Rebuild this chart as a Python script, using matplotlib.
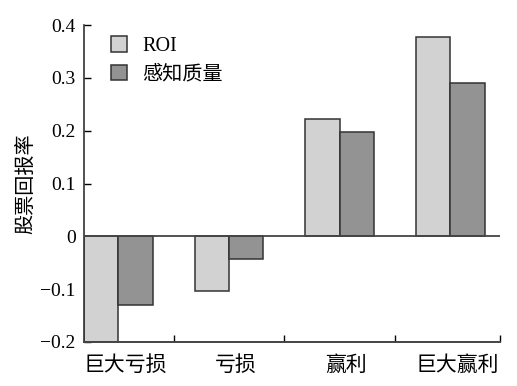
import numpy as np
import matplotlib.pyplot as plt
from matplotlib.patches import Patch

plt.rcParams['font.family'] = ['Liberation Serif', 'Noto Sans CJK SC']
plt.rcParams['axes.unicode_minus'] = True

# data
categories = ['巨大亏损', '亏损', '赢利', '巨大赢利']
roi = [-0.2, -0.104, 0.222, 0.377]
perceived = [-0.130, -0.042, 0.198, 0.290]
series_names = ['ROI', '感知质量']
yticks = [-0.2, -0.1, 0, 0.1, 0.2, 0.3, 0.4]
ytick_labels = ['\u22120.2', '\u22120.1', '0', '0.1', '0.2', '0.3', '0.4']

c_roi = '#d2d2d2'
c_per = '#939393'
edge = '#333333'

fig = plt.figure(figsize=(5.17, 3.86), dpi=100)
ax = fig.add_axes([0.1625, 0.114, 0.805, 0.821])

x = np.arange(len(categories))
w = 0.31
ax.bar(x - w / 2, roi, w, color=c_roi, edgecolor=edge, linewidth=1.1, zorder=2)
ax.bar(x + w / 2, perceived, w, color=c_per, edgecolor=edge, linewidth=1.1, zorder=2)

ax.axhline(0, color='#444444', linewidth=1.3, zorder=3)

ax.set_xlim(-0.31, 3.45)
ax.set_ylim(-0.2, 0.4)

ax.spines['top'].set_visible(False)
ax.spines['right'].set_visible(False)
ax.spines['left'].set_color('#333333')
ax.spines['bottom'].set_color('#444444')
ax.spines['left'].set_linewidth(1.2)
ax.spines['bottom'].set_linewidth(1.4)

ax.set_yticks(yticks)
ax.set_yticklabels(ytick_labels, fontsize=14)
ax.tick_params(axis='y', direction='in', length=5, width=1, pad=6)

# category boundaries as ticks, names as minor ticks
ax.set_xticks([0.5, 1.5, 2.5, 3.45])
ax.set_xticklabels([])
ax.tick_params(axis='x', which='major', direction='in', length=5, width=1)
ax.set_xticks(x + 0.06, minor=True)
ax.set_xticklabels(categories, minor=True, fontsize=15)
ax.tick_params(axis='x', which='minor', length=0, pad=10)

ax.set_ylabel('股票回报率', fontsize=14.5, labelpad=3)

handles = [Patch(facecolor=c_roi, edgecolor=edge, linewidth=1.1),
           Patch(facecolor=c_per, edgecolor=edge, linewidth=1.1)]
ax.legend(handles, series_names, loc='upper left', bbox_to_anchor=(0.045, 0.99),
          frameon=False, fontsize=14.5, handlelength=0.8, handleheight=0.8,
          handletextpad=0.75, labelspacing=0.45, borderaxespad=0)

fig.savefig('out.png', dpi=100)
